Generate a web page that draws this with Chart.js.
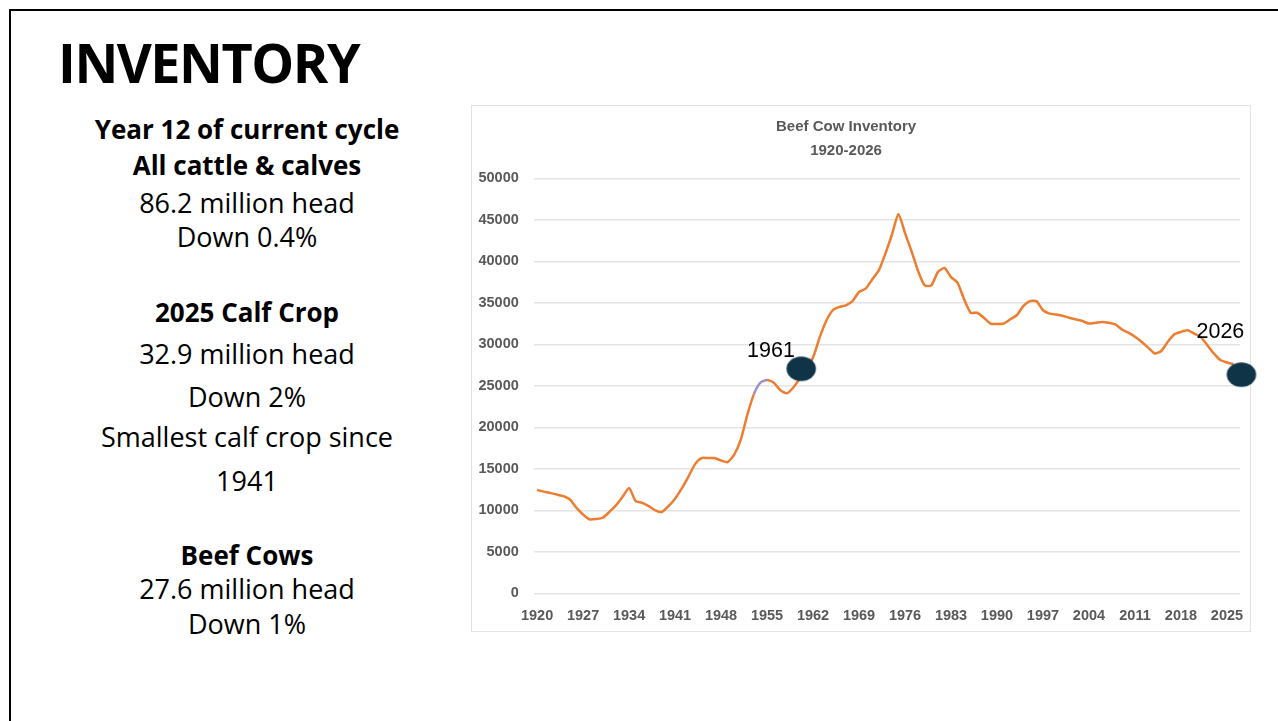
<!DOCTYPE html>
<html>
<head>
<meta charset="utf-8">
<script src="https://cdn.jsdelivr.net/npm/chart.js@4.4.1/dist/chart.umd.min.js"></script>
<style>
  html, body { margin:0; padding:0; width:1278px; height:721px; overflow:hidden; background:#fff; }
  body { position:relative; font-family:"Open Sans", sans-serif; color:#000; }
  #slideBorder { position:absolute; left:9px; top:9px; width:1400px; height:800px; border:2px solid #000; box-sizing:border-box; }
  #heading { position:absolute; left:58px; top:34.7px; font-weight:700; font-size:54px; line-height:54px; letter-spacing:-1.5px; white-space:nowrap; }
  .ln { position:absolute; left:0; width:494px; text-align:center; white-space:nowrap; }
  .b { font-weight:700; font-size:26px; line-height:26px; }
  .r { font-weight:400; font-size:27px; line-height:27px; }
  #frame { position:absolute; left:471px; top:105px; width:780px; height:527px; border:1px solid #e3e3e3; box-sizing:border-box; }
  #wrap { position:absolute; left:451.9px; top:104px; width:806px; height:530px; }
</style>
</head>
<body>
<div id="slideBorder"></div>
<div id="heading">INVENTORY</div>
<div class="ln b" style="top:116.2px">Year 12 of current cycle</div>
<div class="ln b" style="top:151.9px">All cattle &amp; calves</div>
<div class="ln r" style="top:189.3px">86.2 million head</div>
<div class="ln r" style="top:223.3px">Down 0.4%</div>
<div class="ln b" style="top:298.6px">2025 Calf Crop</div>
<div class="ln r" style="top:340px">32.9 million head</div>
<div class="ln r" style="top:382.7px">Down 2%</div>
<div class="ln r" style="top:422.7px">Smallest calf crop since</div>
<div class="ln r" style="top:466.7px">1941</div>
<div class="ln b" style="top:541.9px">Beef Cows</div>
<div class="ln r" style="top:575.3px">27.6 million head</div>
<div class="ln r" style="top:610px">Down 1%</div>
<div id="frame"></div>
<div id="wrap"><canvas id="c" width="806" height="530"></canvas></div>
<script>
// ---- data ----
const years = [
  1920,1921,1922,1923,1924,1925,1926,1927,1928,1929,
  1930,1931,1932,1933,1934,1935,1936,1937,1938,1939,
  1940,1941,1942,1943,1944,1945,1946,1947,1948,1949,
  1950,1951,1952,1953,1954,1955,1956,1957,1958,1959,
  1960,1961,1962,1963,1964,1965,1966,1967,1968,1969,
  1970,1971,1972,1973,1974,1975,1976,1977,1978,1979,
  1980,1981,1982,1983,1984,1985,1986,1987,1988,1989,
  1990,1991,1992,1993,1994,1995,1996,1997,1998,1999,
  2000,2001,2002,2003,2004,2005,2006,2007,2008,2009,
  2010,2011,2012,2013,2014,2015,2016,2017,2018,2019,
  2020,2021,2022,2023,2024,2025,2026
];
const beefCows = [
  12450,12250,12100,11900,11700,11300,10300,9500,8900,8950,
  9100,9800,10600,11600,12700,11100,10900,10500,10000,9800,
  10500,11400,12600,14000,15500,16300,16300,16300,16000,15800,
  16700,18500,21500,24000,25400,25700,25400,24500,24100,24800,
  25900,27000,28400,30800,32800,34100,34500,34700,35200,36300,
  36700,37800,38900,40900,43200,45700,43400,41200,38800,37100,
  37100,38700,39200,38100,37400,35400,33800,33800,33200,32500,
  32450,32500,33000,33500,34600,35200,35200,34100,33700,33600,
  33450,33200,33000,32800,32500,32600,32700,32600,32400,31800,
  31400,30900,30300,29600,28900,29200,30300,31200,31500,31700,
  31300,30900,29900,28900,28100,27800,27600
];
const tickYears = [1920,1927,1934,1941,1948,1955,1962,1969,1976,1983,1990,1997,2004,2011,2018,2025];
const markerYears = [1960.2, 2027.2];
const markerValues = [27050, 26340];
const markerLabels = ['1961', '2026'];
const chartTitle = ['Beef Cow Inventory', '1920-2026'];

// ---- styles ----
function makeEllipse(rx, ry, color) {
  const c = document.createElement('canvas');
  c.width = Math.ceil(rx * 2) + 2; c.height = Math.ceil(ry * 2) + 2;
  const g = c.getContext('2d');
  g.fillStyle = color; g.beginPath();
  g.ellipse(c.width / 2, c.height / 2, rx, ry, 0, 0, Math.PI * 2);
  g.fill();
  return c;
}
const dotImg = makeEllipse(14.7, 12.2, '#0f3447');

const labelOffsets = [
  { dx: -6.3, dy: -11.5, align: 'right' },
  { dx: -21, dy: -37, align: 'center' }
];
const markerLabelPlugin = {
  id: 'markerLabels',
  afterDatasetsDraw(chart) {
    const meta = chart.getDatasetMeta(0);
    const ctx = chart.ctx;
    ctx.save();
    ctx.font = '21.5px "Liberation Sans", Arial, sans-serif';
    ctx.fillStyle = '#000';
    ctx.textBaseline = 'alphabetic';
    meta.data.forEach((pt, i) => {
      const o = labelOffsets[i];
      ctx.textAlign = o.align;
      ctx.fillText(markerLabels[i], pt.x + o.dx, pt.y + o.dy);
    });
    ctx.restore();
  }
};

const lineData = years.map((y, i) => ({ x: y, y: beefCows[i] }));
const markerData = markerYears.map((y, i) => ({ x: y, y: markerValues[i] }));

const tickFont = { family: '"Liberation Sans", Arial, sans-serif', size: 14.5, weight: 'bold' };

new Chart(document.getElementById('c'), {
  type: 'line',
  data: {
    datasets: [
      {
        label: 'markers',
        data: markerData,
        showLine: false,
        pointStyle: dotImg,
        pointRadius: 15,
        clip: false,
        order: 0
      },
      {
        label: 'Beef cows',
        data: lineData,
        borderColor: '#ED7D31',
        borderWidth: 2.5,
        pointRadius: 0,
        tension: 0.2,
        order: 1,
        segment: {
          borderColor: ctx => (ctx.p0.parsed.x >= 1953 && ctx.p1.parsed.x <= 1955) ? '#9d90c6' : undefined
        }
      }
    ]
  },
  options: {
    responsive: false,
    animation: false,
    layout: { padding: { left: 0, right: 17.9, top: 0, bottom: 0 } },
    plugins: {
      legend: { display: false },
      tooltip: { enabled: false },
      title: {
        display: true,
        text: chartTitle,
        color: '#595959',
        font: { family: '"Liberation Sans", Arial, sans-serif', size: 15, weight: 'bold', lineHeight: 1.6 },
        padding: { top: 11, bottom: 15.3 }
      }
    },
    scales: {
      x: {
        type: 'linear',
        min: 1919.5,
        max: 2027,
        afterBuildTicks: axis => { axis.ticks = tickYears.map(v => ({ value: v })); },
        afterFit: axis => { axis.height = 40.7; },
        grid: { display: false, drawTicks: false },
        border: { display: false },
        ticks: {
          autoSkip: false,
          maxRotation: 0,
          padding: 14,
          color: '#595959',
          font: tickFont,
          callback: v => String(v)
        }
      },
      y: {
        min: 0,
        max: 50000,
        afterFit: axis => { axis.width = 81.8; },
        grid: { color: '#e4e4e4', lineWidth: 1.5, drawTicks: false },
        border: { display: false },
        ticks: {
          stepSize: 5000,
          padding: 15,
          color: '#595959',
          font: tickFont,
          callback: v => String(v)
        }
      }
    }
  },
  plugins: [markerLabelPlugin]
});
</script>
</body>
</html>
